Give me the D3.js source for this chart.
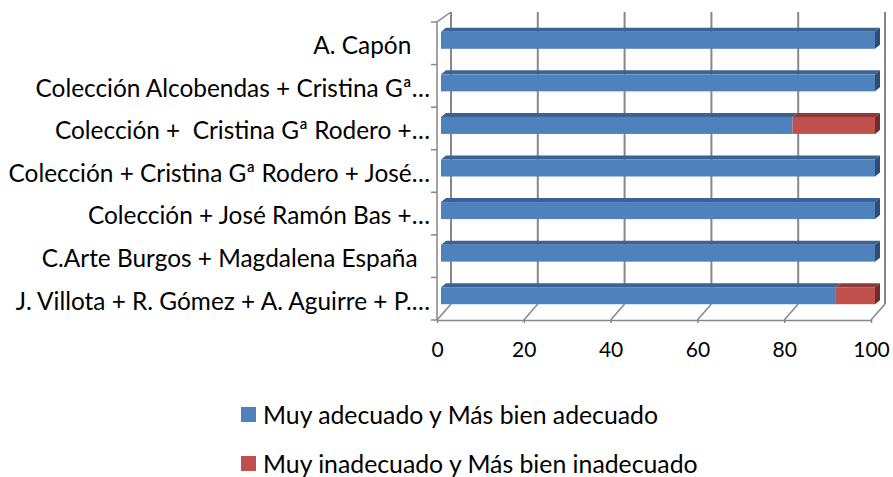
<!DOCTYPE html>
<html>
<head>
<meta charset="utf-8">
<script src="https://cdn.jsdelivr.net/npm/d3@7"></script>
<style>
  body { margin: 0; background: #fff; }
  text { font-family: Lato, "Open Sans", sans-serif; fill: #000; white-space: pre; }
</style>
</head>
<body>
<div id="chart"></div>
<script>
var categories = [
  "A. Capón   ",
  "Colección Alcobendas + Cristina Gª…",
  "Colección +  Cristina Gª Rodero +…",
  "Colección + Cristina Gª Rodero + José…",
  "Colección + José Ramón Bas +…",
  "C.Arte Burgos + Magdalena España  ",
  "J. Villota + R. Gómez + A. Aguirre + P.…"
];
var adecuado = [100, 100, 81, 100, 100, 100, 91];
var inadecuado = [0, 0, 19, 0, 0, 0, 9];
var seriesNames = ["Muy adecuado y Más bien adecuado", "Muy inadecuado y Más bien inadecuado"];
var xTicks = [0, 20, 40, 60, 80, 100];

var colors = ["#4F81BD", "#C0504D"];
var topColors = ["#3B6293", "#8E3A38"];
var sideColors = ["#2E4D73", "#6E2C2B"];

var width = 893, height = 477;
// 3D walls: front plane and back plane
var depth = {dx: 14, dyTop: -10, dyBottom: -16};
var front = {left: 437, right: 871, top: 22, bottom: 320};

var svg = d3.select("#chart").append("svg")
    .attr("width", width)
    .attr("height", height);

var xFront = d3.scaleLinear().domain([0, 100]).range([front.left, front.right]);
var xBack = d3.scaleLinear().domain([0, 100]).range([front.left + depth.dx, front.right + depth.dx]);
var yBand = d3.scaleBand().domain(categories).range([front.top, front.bottom]);
var backTop = front.top + depth.dyTop, backBottom = front.bottom + depth.dyBottom;

var gridColor = "#878787";

// back wall gridlines
svg.append("g").selectAll("line")
    .data(xTicks)
  .enter().append("line")
    .attr("x1", function(d) { return xBack(d); })
    .attr("x2", function(d) { return xBack(d); })
    .attr("y1", backTop)
    .attr("y2", backBottom)
    .attr("stroke", gridColor)
    .attr("stroke-width", 2);

// floor diagonals
svg.append("g").selectAll("line")
    .data(xTicks)
  .enter().append("line")
    .attr("x1", function(d) { return xFront(d); })
    .attr("x2", function(d) { return xBack(d); })
    .attr("y1", front.bottom)
    .attr("y2", backBottom)
    .attr("stroke", gridColor)
    .attr("stroke-width", 1.5);

// left wall edge
svg.append("path")
    .attr("d", "M" + front.left + "," + front.bottom + "V" + front.top + "L" + xBack(0) + "," + backTop)
    .attr("fill", "none")
    .attr("stroke", gridColor)
    .attr("stroke-width", 1.5);

// bottom axis
var xAxis = d3.axisBottom(xFront).tickValues(xTicks).tickSize(3).tickSizeOuter(0);
var gx = svg.append("g")
    .attr("transform", "translate(0," + front.bottom + ")")
    .call(xAxis);
gx.select(".domain").attr("stroke", gridColor).attr("stroke-width", 1.5);
gx.selectAll(".tick line").attr("stroke", gridColor).attr("stroke-width", 1.5);
gx.selectAll(".tick text")
    .attr("y", 22)
    .attr("dy", "0.71em")
    .style("font-size", "21px")
    .style("font-family", "Lato, sans-serif")
    .attr("fill", "#000");

// left axis
var yAxis = d3.axisLeft(yBand).tickSize(0).tickPadding(7);
var gy = svg.append("g")
    .attr("transform", "translate(" + front.left + ",0)")
    .call(yAxis);
gy.select(".domain").remove();
gy.selectAll(".tick text")
    .style("font-size", "24.4px")
    .style("font-family", "Lato, sans-serif")
    .attr("fill", "#000")
    .attr("dy", "0.36em")
    .attr("y", 2);
// category boundary ticks
svg.append("g").selectAll("line")
    .data(categories.concat([null]))
  .enter().append("line")
    .attr("x1", front.left - 6)
    .attr("x2", front.left)
    .attr("y1", function(d) { return d === null ? front.bottom : yBand(d); })
    .attr("y2", function(d) { return d === null ? front.bottom : yBand(d); })
    .attr("stroke", gridColor)
    .attr("stroke-width", 1.5);

// stacked bars
var rows = categories.map(function(c, i) {
  return {cat: c, a: adecuado[i], b: inadecuado[i]};
});
var stack = d3.stack().keys(["a", "b"]);
var series = stack(rows);

var barH = 17, off = {dx: 4, dy: -3}, topD = {dx: 5, dy: -4};

var gBars = svg.append("g");
series.forEach(function(s, si) {
  var g = gBars.append("g");
  var segs = g.selectAll("g")
      .data(s.filter(function(d) { return d[1] > d[0]; }))
    .enter().append("g");
  function y0(d) { return yBand(d.data.cat) + yBand.bandwidth() / 2 + off.dy - barH / 2; }
  function xa(d) { return xFront(d[0]) + off.dx; }
  function xb(d) { return xFront(d[1]) + off.dx; }
  // top face
  segs.append("path")
      .attr("d", function(d) {
        var y = y0(d);
        return "M" + xa(d) + "," + y + "L" + (xa(d) + topD.dx) + "," + (y + topD.dy) +
          "L" + (xb(d) + topD.dx) + "," + (y + topD.dy) + "L" + xb(d) + "," + y + "Z";
      })
      .attr("fill", topColors[si]);
  // right side face (only on the end of the bar)
  segs.filter(function(d) { return d[1] === d.data.a + d.data.b; })
    .append("path")
      .attr("d", function(d) {
        var y = y0(d);
        return "M" + xb(d) + "," + y + "L" + (xb(d) + topD.dx) + "," + (y + topD.dy) +
          "V" + (y + topD.dy + barH) + "L" + xb(d) + "," + (y + barH) + "Z";
      })
      .attr("fill", sideColors[si]);
  // front face
  segs.append("rect")
      .attr("x", xa)
      .attr("y", y0)
      .attr("width", function(d) { return xb(d) - xa(d); })
      .attr("height", barH)
      .attr("fill", colors[si]);
});

// legend
var legend = svg.append("g").selectAll("g")
    .data(seriesNames)
  .enter().append("g")
    .attr("transform", function(d, i) { return "translate(241," + (407 + i * 49) + ")"; });
legend.append("rect")
    .attr("width", 15)
    .attr("height", 15)
    .attr("fill", function(d, i) { return colors[i]; });
legend.append("text")
    .attr("x", 22)
    .attr("y", 8)
    .attr("dy", "0.35em")
    .style("font-size", "24.8px")
    .text(function(d) { return d; });
</script>
</body>
</html>
